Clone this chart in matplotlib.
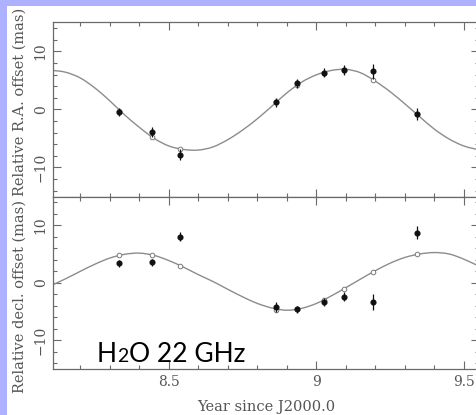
import matplotlib
matplotlib.use("Agg")
import matplotlib.pyplot as plt
from matplotlib.patches import Rectangle, PathPatch
from matplotlib.path import Path
from matplotlib.ticker import MultipleLocator, FixedLocator
from matplotlib.transforms import IdentityTransform

# ---------------- data ----------------
obs_t = [8.331, 8.441, 8.537, 8.863, 8.935, 9.025, 9.093, 9.192, 9.341]

ra_obs = [-0.5, -3.9, -7.8, 1.2, 4.5, 6.35, 6.8, 6.55, -0.8]
ra_err = [0.7, 0.9, 0.9, 0.8, 0.8, 0.8, 0.8, 1.3, 1.0]
ra_model_pts = [-0.2, -4.7, -6.8, 1.2, 4.2, 6.3, 6.85, 5.0, -0.8]

dec_obs = [3.4, 3.6, 8.0, -4.2, -4.6, -3.4, -2.4, -3.3, 8.7]
dec_err = [0.6, 0.6, 0.8, 0.8, 0.6, 0.7, 0.8, 1.4, 1.1]
dec_model_pts = [4.9, 4.9, 2.95, -4.7, -4.6, -2.95, -1.05, 1.9, 4.95]

curve_t = [8.10, 8.15, 8.20, 8.25, 8.30, 8.35, 8.40, 8.45, 8.50, 8.55,
           8.60, 8.65, 8.70, 8.75, 8.80, 8.85, 8.90, 8.95, 9.00, 9.05,
           9.10, 9.15, 9.20, 9.25, 9.30, 9.35, 9.40, 9.45, 9.50, 9.55]
ra_curve = [6.75, 6.4, 5.4, 3.65, 1.45, -0.95, -3.1, -5.0, -6.3, -6.9,
            -7.0, -6.45, -5.2, -3.55, -1.6, 0.6, 2.85, 4.7, 5.95, 6.7,
            6.9, 6.3, 4.85, 3.05, 0.95, -1.25, -3.4, -5.1, -6.3, -6.95]
dec_curve = [-0.5, 0.7, 2.0, 3.25, 4.3, 4.95, 5.15, 4.75, 3.85, 2.7,
             1.4, 0.2, -1.15, -2.45, -3.6, -4.4, -4.78, -4.45, -3.6, -2.3,
             -0.85, 0.65, 2.1, 3.4, 4.4, 5.0, 5.25, 5.0, 4.1, 2.9]

x_ticks = [8.5, 9.0, 9.5]
x_tick_labels = ["8.5", "9", "9.5"]
y_ticks = [-10, 0, 10]
y_tick_labels = ["\u221210", "0", "10"]
ra_label = "Relative R.A. offset (mas)"
dec_label = "Relative decl. offset (mas)"
x_label = "Year since J2000.0"
note_parts = ["H", "2", "O 22 GHz"]


def smooth_path(xs, ys):
    """Catmull-Rom curve through the read points, as cubic Bezier segments."""
    pts = list(zip(xs, ys))
    verts = [pts[0]]
    codes = [Path.MOVETO]
    n = len(pts)
    for i in range(n - 1):
        p0 = pts[max(i - 1, 0)]
        p1 = pts[i]
        p2 = pts[i + 1]
        p3 = pts[min(i + 2, n - 1)]
        c1 = (p1[0] + (p2[0] - p0[0]) / 6, p1[1] + (p2[1] - p0[1]) / 6)
        c2 = (p2[0] - (p3[0] - p1[0]) / 6, p2[1] - (p3[1] - p1[1]) / 6)
        verts += [c1, c2, p2]
        codes += [Path.CURVE4] * 3
    return Path(verts, codes)


# ---------------- figure ----------------
W, H = 477, 415
fig = plt.figure(figsize=(W / 100, H / 100), dpi=100, facecolor="white")

lav = "#adb1ff"
fig.patches.append(Rectangle((0, 0), 7.3 / W, 1, transform=fig.transFigure,
                             facecolor=lav, edgecolor="none", zorder=-10))
fig.patches.append(Rectangle((0, 1 - 6.0 / H), 1, 6.0 / H, transform=fig.transFigure,
                             facecolor=lav, edgecolor="none", zorder=-10))

left = 53.3 / W
width = (479.5 - 53.3) / W
top_px, mid_px, bot_px = 22.3, 196.5, 369.0
ax1 = fig.add_axes([left, 1 - mid_px / H, width, (mid_px - top_px) / H])
ax2 = fig.add_axes([left, 1 - bot_px / H, width, (bot_px - mid_px) / H])

spine_col = "#6a6a6a"
text_col = "#555555"
curve_col = "#8c8c8c"
serif = ["DejaVu Serif"]

for ax, obs, err, mpts, curve, lab in [
        (ax1, ra_obs, ra_err, ra_model_pts, ra_curve, ra_label),
        (ax2, dec_obs, dec_err, dec_model_pts, dec_curve, dec_label)]:
    ax.set_xlim(8.108, 9.553)
    ax.set_ylim(-15, 15)
    ax.add_patch(PathPatch(smooth_path(curve_t, curve), fill=False,
                           edgecolor=curve_col, lw=1.0, zorder=2))
    ax.plot(obs_t, mpts, linestyle="none", marker="o", ms=3.3,
            mfc="white", mec="#7a7a7a", mew=0.7, zorder=3)
    ax.errorbar(obs_t, obs, yerr=err, fmt="o", color="#111111", ms=3.4,
                elinewidth=0.9, capsize=0, zorder=4)
    for s in ax.spines.values():
        s.set_color(spine_col)
        s.set_linewidth(0.9)
    ax.xaxis.set_major_locator(FixedLocator(x_ticks))
    ax.xaxis.set_minor_locator(MultipleLocator(0.1))
    ax.yaxis.set_major_locator(FixedLocator(y_ticks))
    ax.yaxis.set_minor_locator(MultipleLocator(2))
    ax.tick_params(which="both", direction="in", top=True, right=True,
                   color=spine_col, width=0.8, labelcolor=text_col)
    ax.tick_params(which="major", length=5.5)
    ax.tick_params(which="minor", length=3)
    ax.set_yticklabels(y_tick_labels, rotation=90, va="center",
                       family=serif, fontsize=10)
    ax.tick_params(axis="y", pad=4)
    ax.set_ylabel(lab, family=serif, fontsize=10.5, color=text_col)

ax1.tick_params(axis="x", labelbottom=False)
ax2.set_xticklabels(x_tick_labels, family=serif, fontsize=10)
ax2.tick_params(axis="x", pad=4)
ax2.set_xlabel(x_label, family=serif, fontsize=10.5, color=text_col, labelpad=8)

ax1.yaxis.set_label_coords(-0.062, 0.5425)
ax2.yaxis.set_label_coords(-0.062, 0.423)

# "H2O 22 GHz" annotation with a smaller 2 on the same baseline
fig.canvas.draw()
r = fig.canvas.get_renderer()
x_pos, base = 97.0, H - 361.7
sizes = [19, 14, 19]
for part, fs in zip(note_parts, sizes):
    t = fig.text(x_pos, base, part, transform=IdentityTransform(), family=["Lato"],
                 fontsize=fs, color="black", va="baseline")
    x_pos = t.get_window_extent(r).x1 + 0.5

fig.savefig("out.png", dpi=100, facecolor=fig.get_facecolor())
